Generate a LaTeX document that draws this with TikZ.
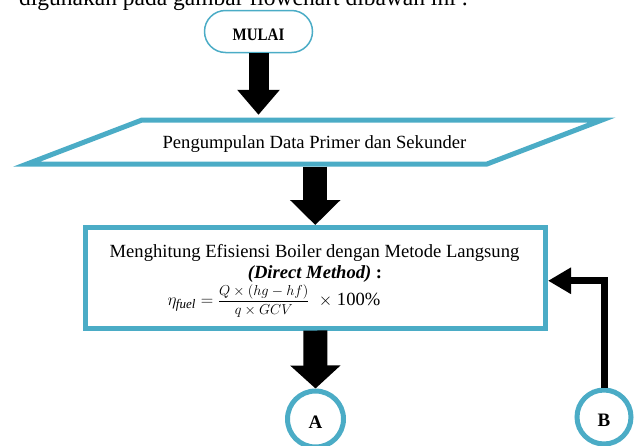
\documentclass[tikz,border=0pt]{standalone}
\usepackage{fontspec}
\setmainfont{Liberation Serif}
\usepackage{graphicx}
\usetikzlibrary{arrows.meta}
\definecolor{flowblue}{RGB}{75,172,198}
\begin{document}
\begin{tikzpicture}[x=1pt,y=-1pt,
  line join=miter,
  bodytext/.style={font=\fontsize{18.6}{21}\selectfont},
  term/.style={draw=flowblue, line width=1.5pt, rounded corners=21pt,
    minimum width=108pt, minimum height=42pt, inner sep=0pt,
    text height=17pt, text depth=0pt},
  proc/.style={draw=flowblue, line width=5pt, minimum width=460.5pt,
    minimum height=100.5pt, inner sep=0pt},
  conn/.style={circle, draw=flowblue, line width=5pt, inner sep=0pt,
    font=\fontsize{19}{19}\selectfont\bfseries, text height=18pt, text depth=0pt},
  fatarrow/.style n args={3}{draw=black, line width=#1, line cap=butt,
    -{Triangle[width=#2,length=#3]}},
  backline/.style={draw=black, line width=7pt, line cap=butt,
    -{Triangle[width=25pt,length=23pt]}}
]
\useasboundingbox (0,0) rectangle (636,445);
\clip (0,0) rectangle (636,445);

% line of running text above the chart
\node[anchor=base west, inner sep=0pt, font=\fontsize{23.5}{24}\selectfont]
  (intro) at (19,5) {digunakan pada gambar flowchart dibawah ini :};

% start terminal
\node[term] (mulai) at (258.5,31.5)
  {\fontsize{17.5}{17.5}\selectfont\bfseries\scalebox{0.86}[1]{MULAI}};

% input/output parallelogram
\draw[draw=flowblue, line width=5pt] (27,164) -- (142,120) -- (602,120) -- (487,164) -- cycle;
\node[bodytext, minimum width=345pt, minimum height=44pt, inner sep=0pt,
  text height=14pt, text depth=2pt] (para) at (314.5,142)
  {Pengumpulan Data Primer dan Sekunder};

% process box
\node[proc] (hitung) at (315.25,277.75) {};
\node[bodytext, anchor=base, inner sep=0pt] (t1) at (314.5,257)
  {Menghitung Efisiensi Boiler dengan Metode Langsung};
\node[bodytext, anchor=base, inner sep=0pt] (t2) at (315,278)
  {\textbf{\textit{(Direct Method)} :}};
\node[bodytext, anchor=base, inner sep=0pt] (t3) at (274,305)
  {$\eta_{\mathit{fuel}} =$ {\fontsize{14.5}{15}\selectfont$\displaystyle\frac{Q\times(hg-hf)}{q\times GCV}$}\ \ $\times$ 100\%};

% off-page connectors
\node[conn, minimum size=56pt] (A) at (315.5,419) {A};
\node[conn, minimum size=54pt] (B) at (604,417) {B};

% flow arrows
\draw[fatarrow={20pt}{41pt}{25pt}, shorten >=5pt] (mulai.south) -- (mulai.south |- para.north);
\draw[fatarrow={24pt}{49pt}{25pt}, shorten <=2.5pt] (hitung.north |- para.south) -- (hitung.north);
\draw[fatarrow={24pt}{49pt}{23pt}] (hitung.south) -- (A.north);
\draw[backline] (B.north) |- ([yshift=-3pt]hitung.east);
\end{tikzpicture}
\end{document}
